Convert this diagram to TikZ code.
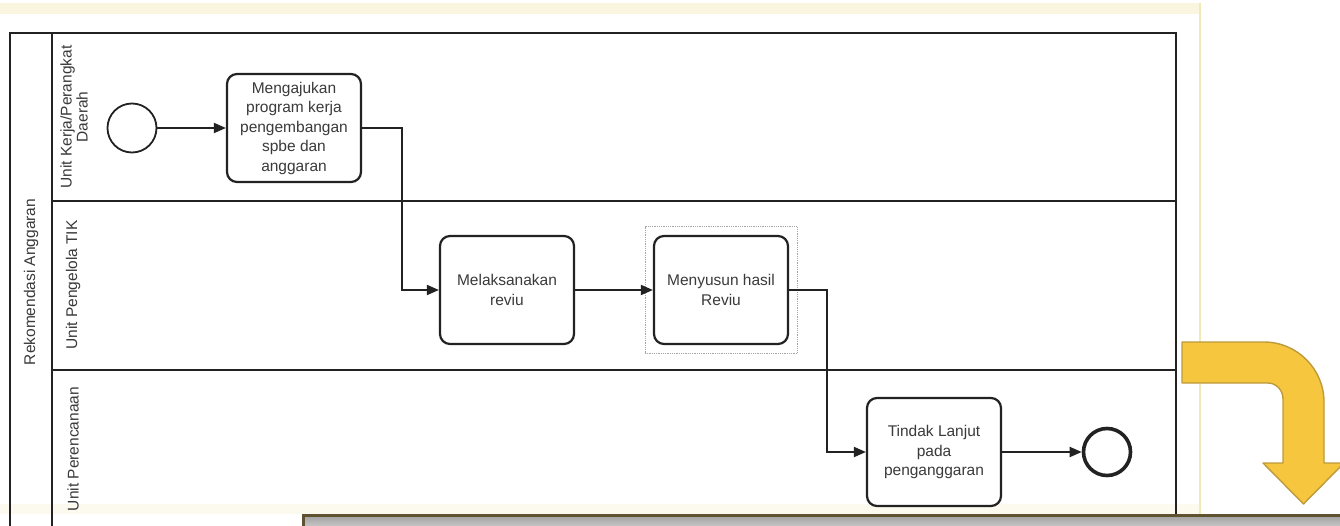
\documentclass[tikz,border=0pt]{standalone}
\usepackage{fontspec}
\setmainfont{Liberation Sans}
\usetikzlibrary{arrows.meta,fit}
\definecolor{ink}{HTML}{222222}
\definecolor{txt}{HTML}{3A3A3A}
\definecolor{cream}{HTML}{FAF5DE}
\definecolor{creamline}{HTML}{EFEAB8}
\definecolor{gold}{HTML}{F6C63E}
\definecolor{golddark}{HTML}{BD9A3C}
\definecolor{barline}{HTML}{5E5230}
\tikzset{
  task/.style={draw=ink, line width=2.2pt, rounded corners=10pt, fill=white,
    minimum width=134pt, minimum height=108pt, align=center, text=txt,
    font=\fontsize{15.5}{19.5}\selectfont, inner sep=2pt},
  startev/.style={circle, draw=ink, line width=1.8pt, minimum size=49pt, inner sep=0pt, fill=white},
  endev/.style={circle, draw=ink, line width=3.6pt, minimum size=47pt, inner sep=0pt, fill=white},
  flow/.style={draw=ink, line width=1.8pt, -{Triangle[length=12pt,width=10pt]}},
  poolline/.style={draw=ink, line width=2pt},
  lanelabel/.style={rotate=90, text=txt, align=center, font=\fontsize{15.5}{16}\selectfont, inner sep=0pt},
  selbox/.style={draw=gray!70, densely dotted, line width=0.8pt, inner sep=8pt},
}
\begin{document}
\begin{tikzpicture}[x=1pt, y=-1pt]
  \useasboundingbox (0,0) rectangle (1340,526);
  \fill[white] (0,0) rectangle (1340,526);

  % pale frame of the page area
  \fill[cream] (0,3) rectangle (1201,14);
  \fill[cream!50] (0,504) rectangle (1201,514);
  \draw[creamline, line width=1.2pt] (1200,3) -- (1200,514);

  % pool and lanes
  \draw[poolline] (10,33) rectangle (1176,540);
  \draw[poolline] (52,33) -- (52,540);
  \draw[poolline] (52,201) -- (1176,201);
  \draw[poolline] (52,370) -- (1176,370);

  \node[lanelabel] (pool) at (31,282) {Rekomendasi Anggaran};
  \node[lanelabel] (lane1) at (74,117) {Unit Kerja/Perangkat\\Daerah};
  \node[lanelabel] (lane2) at (73,285) {Unit Pengelola TIK};
  \node[lanelabel] (lane3) at (73,449) {Unit Perencanaan};

  % events and tasks
  \node[startev] (start) at (132,128) {};
  \node[task] (t1) at (294,128) {Mengajukan\\program kerja\\pengembangan\\spbe dan\\anggaran};
  \node[task] (t2) at (507,290) {Melaksanakan\\reviu};
  \node[task] (t3) at (721,290) {Menyusun hasil\\Reviu};
  \node[selbox, fit=(t3)] (sel) {};
  \node[task] (t4) at (934,452) {Tindak Lanjut\\pada\\penganggaran};
  \node[endev] (end) at (1107,452) {};

  % sequence flows
  \draw[flow] (start) -- (t1);
  \draw[flow] (t1.east) -- ++(40,0) |- (t2.west);
  \draw[flow] (t2) -- (t3);
  \draw[flow] (t3.east) -- ++(38,0) |- (t4.west);
  \draw[flow] (t4) -- (end);

  % yellow bent arrow on the right
  \filldraw[fill=gold, draw=golddark, line width=1.4pt, line join=round]
    (1182,342) -- (1264,342)
    .. controls (1297,342) and (1324,369) .. (1324,402)
    -- (1324,463) -- (1344,463) -- (1303.5,504) -- (1263,463) -- (1283,463)
    -- (1283,399) .. controls (1283,390) and (1276,383) .. (1268,383)
    -- (1182,383) -- cycle;

  % window edge along the bottom
  \shade[top color=gray!75, bottom color=gray!35] (303,515) rectangle (1345,530);
  \draw[barline, line width=2.2pt] (303.5,530) -- (303.5,515.5) -- (1345,515.5);
\end{tikzpicture}
\end{document}
